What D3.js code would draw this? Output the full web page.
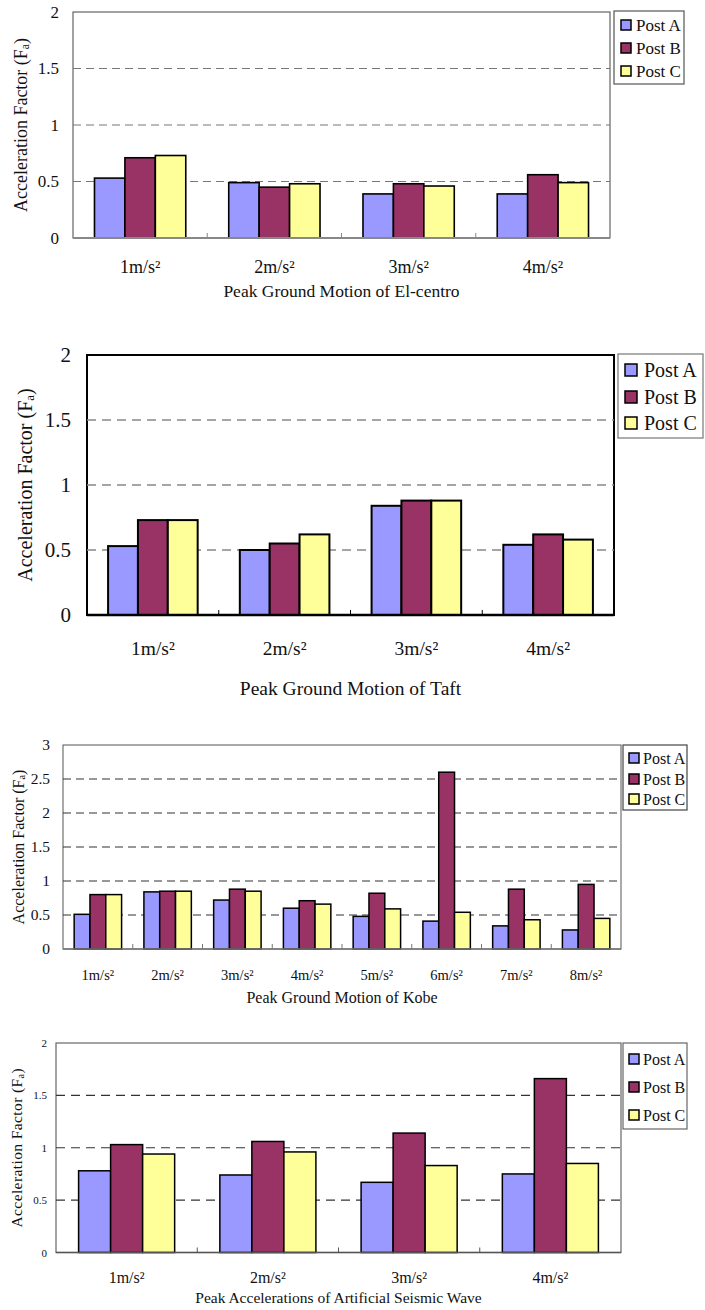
<!DOCTYPE html>
<html>
<head>
<meta charset="utf-8">
<script src="https://cdn.jsdelivr.net/npm/d3@7"></script>
<style>
  html, body { margin: 0; padding: 0; background: #fff; }
  svg { display: block; }
  text { font-family: "Liberation Serif", "Times New Roman", serif; fill: #111; }
</style>
</head>
<body>
<svg id="chart" width="705" height="1310"></svg>
<script>
// ---------- data ----------
const series = ["Post A", "Post B", "Post C"];
const seriesColors = ["#9999FF", "#993366", "#FFFF99"];

const elCentroCategories = ["1m/s²", "2m/s²", "3m/s²", "4m/s²"];
const elCentroPostA = [0.53, 0.49, 0.39, 0.39];
const elCentroPostB = [0.71, 0.45, 0.48, 0.56];
const elCentroPostC = [0.73, 0.48, 0.46, 0.49];
const elCentroTicks = [0, 0.5, 1, 1.5, 2];

const taftCategories = ["1m/s²", "2m/s²", "3m/s²", "4m/s²"];
const taftPostA = [0.53, 0.50, 0.84, 0.54];
const taftPostB = [0.73, 0.55, 0.88, 0.62];
const taftPostC = [0.73, 0.62, 0.88, 0.58];
const taftTicks = [0, 0.5, 1, 1.5, 2];

const kobeCategories = ["1m/s²", "2m/s²", "3m/s²", "4m/s²", "5m/s²", "6m/s²", "7m/s²", "8m/s²"];
const kobePostA = [0.51, 0.84, 0.72, 0.60, 0.48, 0.41, 0.34, 0.28];
const kobePostB = [0.80, 0.85, 0.88, 0.71, 0.82, 2.60, 0.88, 0.95];
const kobePostC = [0.80, 0.85, 0.85, 0.66, 0.59, 0.54, 0.43, 0.45];
const kobeTicks = [0, 0.5, 1, 1.5, 2, 2.5, 3];

const artCategories = ["1m/s²", "2m/s²", "3m/s²", "4m/s²"];
const artPostA = [0.78, 0.74, 0.67, 0.75];
const artPostB = [1.03, 1.06, 1.14, 1.66];
const artPostC = [0.94, 0.96, 0.83, 0.85];
const artTicks = [0, 0.5, 1, 1.5, 2];

const yTitle = "Acceleration Factor (F";
const xTitles = [
  "Peak Ground Motion of El-centro",
  "Peak Ground Motion of Taft",
  "Peak Ground Motion of Kobe",
  "Peak Accelerations of Artificial Seismic Wave"
];

// ---------- layout / style ----------
const charts = [
  {
    cats: elCentroCategories, vals: [elCentroPostA, elCentroPostB, elCentroPostC], ticks: elCentroTicks,
    xTitle: xTitles[0],
    left: 73, right: 610, top: 12, bottom: 238,
    frame: "#444", frameW: 1, axisColor: "#888", axisW: 2,
    grid: "#777", gridW: 1.2, dash: "8,5",
    barStroke: 1.6,
    tickFont: 17, tickX: 59,
    yTitleFont: 18, yTitleX: 21, yTitleSpacing: 0,
    catFont: 18, catY: 267,
    xTitleFont: 17.5, xTitleY: 291,
    legend: { x: 614, y: 11, w: 70, h: 73, rows: [25, 48, 71], sw: 10, sx: 621, tx: 636, font: 17, stroke: "#555" }
  },
  {
    cats: taftCategories, vals: [taftPostA, taftPostB, taftPostC], ticks: taftTicks,
    xTitle: xTitles[1],
    left: 87, right: 614, top: 355, bottom: 615,
    frame: "#000", frameW: 2, axisColor: "#000", axisW: 2.5,
    grid: "#888", gridW: 1.4, dash: "9,6",
    barStroke: 2,
    tickFont: 21, tickX: 71,
    yTitleFont: 20, yTitleX: 25, yTitleSpacing: 0,
    catFont: 19.5, catY: 648,
    xTitleFont: 19.5, xTitleY: 688,
    legend: { x: 618, y: 354, w: 85, h: 84, rows: [370, 397, 423], sw: 12, sx: 625, tx: 644, font: 20, stroke: "#777" }
  },
  {
    cats: kobeCategories, vals: [kobePostA, kobePostB, kobePostC], ticks: kobeTicks,
    xTitle: xTitles[2],
    left: 63, right: 621, top: 745, bottom: 949,
    frame: "#555", frameW: 1, axisColor: "#777", axisW: 1.5,
    grid: "#333", gridW: 1.2, dash: "8,5",
    barStroke: 1.5,
    tickFont: 15.5, tickX: 50,
    yTitleFont: 16, yTitleX: 18, yTitleSpacing: 0,
    catFont: 14.5, catY: 975,
    xTitleFont: 16, xTitleY: 997,
    legend: { x: 623, y: 745, w: 64, h: 65, rows: [758, 779, 799], sw: 10, sx: 629, tx: 643, font: 16, stroke: "#444" }
  },
  {
    cats: artCategories, vals: [artPostA, artPostB, artPostC], ticks: artTicks,
    xTitle: xTitles[3],
    left: 56, right: 621, top: 1043, bottom: 1252.5,
    frame: "#666", frameW: 1.2, axisColor: "#555", axisW: 1.5,
    grid: "#333", gridW: 1.2, dash: "9,6",
    barStroke: 1.5,
    tickFont: 11, tickX: 47,
    yTitleFont: 15.5, yTitleX: 17, yTitleSpacing: 0.4,
    catFont: 16, catY: 1277,
    xTitleFont: 15.5, xTitleY: 1298,
    legend: { x: 623, y: 1043, w: 64, h: 86, rows: [1059, 1087, 1115], sw: 10, sx: 629, tx: 643, font: 16, stroke: "#666" }
  }
];

const svg = d3.select("#chart");

charts.forEach(c => {
  const g = svg.append("g");
  const yMax = c.ticks[c.ticks.length - 1];
  const y = d3.scaleLinear().domain([0, yMax]).range([c.bottom, c.top]);
  const x = d3.scaleBand().domain(c.cats).range([c.left, c.right]).paddingInner(0).paddingOuter(0);
  const x1 = d3.scaleBand().domain(series).range([x.bandwidth() * 0.16, x.bandwidth() * 0.84]).padding(0);

  // plot background + frame
  g.append("rect")
    .attr("x", c.left).attr("y", c.top)
    .attr("width", c.right - c.left).attr("height", c.bottom - c.top)
    .attr("fill", "#fff").attr("stroke", c.frame).attr("stroke-width", c.frameW);

  // gridlines
  g.append("g").selectAll("line")
    .data(c.ticks.filter(t => t > 0 && t < yMax))
    .join("line")
    .attr("x1", c.left).attr("x2", c.right)
    .attr("y1", d => y(d)).attr("y2", d => y(d))
    .attr("stroke", c.grid).attr("stroke-width", c.gridW)
    .attr("stroke-dasharray", c.dash);

  // bars
  const groups = g.append("g").selectAll("g")
    .data(c.cats)
    .join("g")
    .attr("transform", d => `translate(${x(d)},0)`);
  groups.selectAll("rect")
    .data((d, i) => series.map((s, k) => ({ s, k, v: c.vals[k][i] })))
    .join("rect")
    .attr("x", d => x1(d.s))
    .attr("width", x1.bandwidth())
    .attr("y", d => y(d.v))
    .attr("height", d => y(0) - y(d.v))
    .attr("fill", d => seriesColors[d.k])
    .attr("stroke", "#000")
    .attr("stroke-width", c.barStroke);

  // x axis baseline
  g.append("line")
    .attr("x1", c.left).attr("x2", c.right)
    .attr("y1", y(0)).attr("y2", y(0))
    .attr("stroke", c.axisColor).attr("stroke-width", c.axisW);

  // category boundary ticks (inside)
  g.append("g").selectAll("line")
    .data(c.cats.slice(1))
    .join("line")
    .attr("x1", d => x(d)).attr("x2", d => x(d))
    .attr("y1", y(0)).attr("y2", y(0) - 5)
    .attr("stroke", c.axisColor).attr("stroke-width", 1);

  // y tick labels via axis
  const yAxis = d3.axisLeft(y).tickValues(c.ticks).tickSize(0).tickFormat(d => String(d));
  const ya = g.append("g")
    .attr("transform", `translate(${c.tickX},0)`)
    .call(yAxis);
  ya.select(".domain").remove();
  ya.selectAll("text")
    .attr("x", 0)
    .attr("font-size", c.tickFont)
    .attr("font-family", "Liberation Serif")
    .attr("fill", "#111");

  // x category labels via axis
  const xAxis = d3.axisBottom(x).tickSize(0);
  const xa = g.append("g")
    .attr("transform", `translate(0,${c.catY})`)
    .call(xAxis);
  xa.select(".domain").remove();
  xa.selectAll("text")
    .attr("y", 0).attr("dy", "0.35em")
    .attr("font-size", c.catFont)
    .attr("font-family", "Liberation Serif")
    .attr("fill", "#111");

  // x title
  g.append("text")
    .attr("x", (c.left + c.right) / 2)
    .attr("y", c.xTitleY)
    .attr("dy", "0.35em")
    .attr("text-anchor", "middle")
    .attr("font-size", c.xTitleFont)
    .text(c.xTitle);

  // y title
  const yt = g.append("text")
    .attr("transform", `translate(${c.yTitleX},${(c.top + c.bottom) / 2}) rotate(-90)`)
    .attr("text-anchor", "middle")
    .attr("dy", "0.35em")
    .attr("letter-spacing", c.yTitleSpacing)
    .attr("font-size", c.yTitleFont);
  yt.append("tspan").text(yTitle);
  yt.append("tspan").attr("font-size", c.yTitleFont * 0.65).attr("dy", "0.15em").text("a");
  yt.append("tspan").attr("dy", "-0.1em").text(")");

  // legend
  const L = c.legend;
  const lg = g.append("g");
  lg.append("rect")
    .attr("x", L.x).attr("y", L.y).attr("width", L.w).attr("height", L.h)
    .attr("fill", "#fff").attr("stroke", L.stroke).attr("stroke-width", 1.2);
  const items = lg.selectAll("g.item")
    .data(series)
    .join("g").attr("class", "item");
  items.append("rect")
    .attr("x", L.sx)
    .attr("y", (d, i) => L.rows[i] - L.sw / 2)
    .attr("width", L.sw).attr("height", L.sw)
    .attr("fill", (d, i) => seriesColors[i])
    .attr("stroke", "#000").attr("stroke-width", 1.5);
  items.append("text")
    .attr("x", L.tx)
    .attr("y", (d, i) => L.rows[i])
    .attr("dy", "0.35em")
    .attr("font-size", L.font)
    .text(d => d);
});
</script>
</body>
</html>
